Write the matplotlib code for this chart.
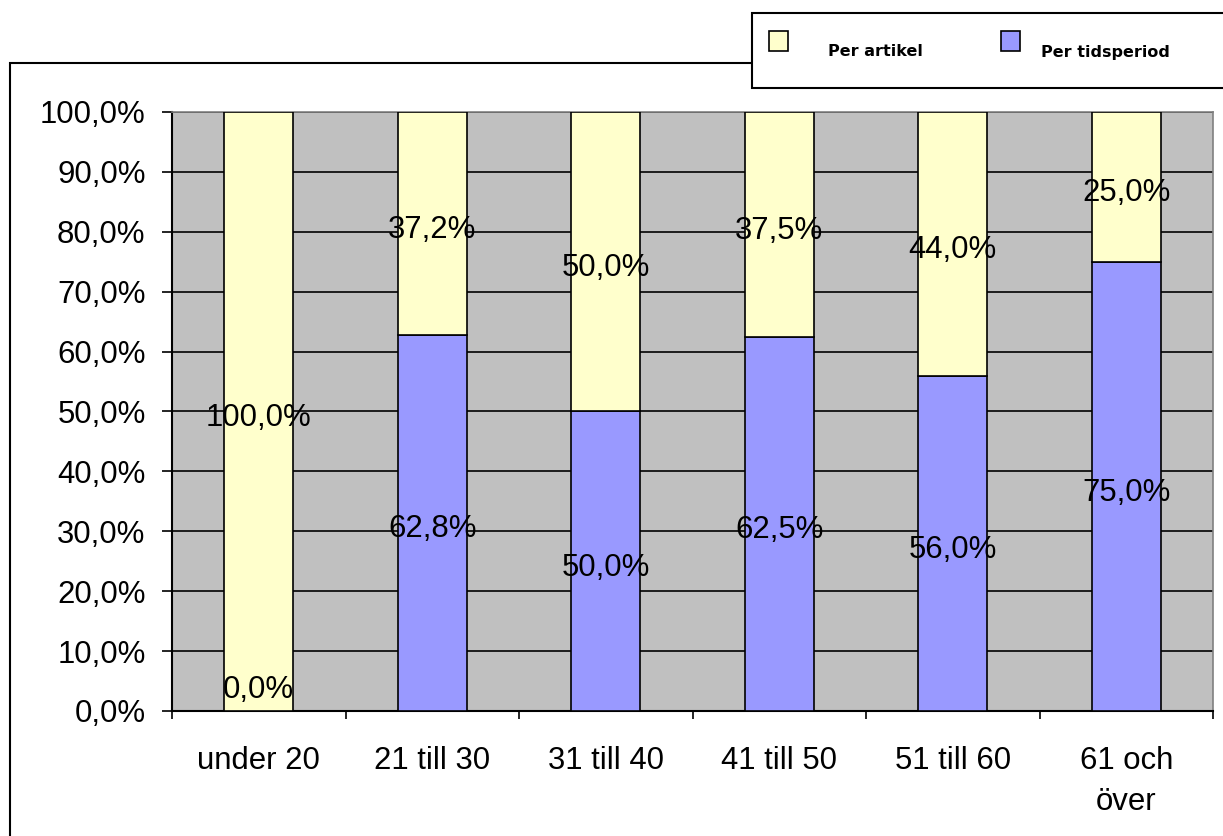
import numpy as np
import matplotlib.pyplot as plt
from matplotlib.patches import Rectangle
from matplotlib.ticker import FixedLocator, FuncFormatter

categories = ['under 20', '21 till 30', '31 till 40', '41 till 50', '51 till 60', '61 och\növer']
per_tidsperiod = [0.0, 62.8, 50.0, 62.5, 56.0, 75.0]
per_artikel = [100.0, 37.2, 50.0, 37.5, 44.0, 25.0]
series_names = ['Per artikel', 'Per tidsperiod']

yellow = '#FFFFCC'
blue = '#9999FF'
W, H = 1223, 836

plt.rcParams['font.family'] = ['Liberation Sans', 'DejaVu Sans']

fig = plt.figure(figsize=(W / 100, H / 100), dpi=100)
ax = fig.add_axes([172 / W, 1 - 711 / H, (1213 - 172) / W, (711 - 112) / H])
ax.set_facecolor('#C0C0C0')

x = np.arange(len(categories))
bw = 0.40
ax.bar(x, per_tidsperiod, bw, color=blue, edgecolor='black', linewidth=1.2, zorder=3)
ax.bar(x, per_artikel, bw, bottom=per_tidsperiod, color=yellow, edgecolor='black',
       linewidth=1.2, zorder=3)

def pct(v):
    return f'{v:.1f}%'.replace('.', ',')

# value labels sit in the middle of each segment (zero segment nudged up)
for xi, t, a in zip(x, per_tidsperiod, per_artikel):
    for yc, v in [(max(t / 2, 4.5), t), (t + a / 2, a)]:
        ax.annotate(pct(v), (xi, yc), xytext=(0, -4.5), textcoords='offset points',
                    ha='center', va='center', fontsize=22.4, zorder=4)

ax.set_xlim(-0.5, len(categories) - 0.5)
ax.set_ylim(0, 100)

ax.yaxis.set_major_locator(FixedLocator(np.arange(0, 101, 10)))
ax.yaxis.set_major_formatter(FuncFormatter(lambda v, _: pct(v)))
ax.grid(axis='y', color='black', linewidth=1.2, zorder=1)
ax.set_axisbelow(True)

# category boundaries get the tick marks, centres get the labels
ax.xaxis.set_major_locator(FixedLocator(np.arange(-0.5, len(categories), 1.0)))
ax.xaxis.set_major_formatter(FuncFormatter(lambda v, _: ''))
ax.set_xticks(x, minor=True)
ax.set_xticklabels(categories, minor=True, fontsize=22.4, linespacing=1.5)
ax.tick_params(axis='x', which='major', length=6, width=1.2, direction='out')
ax.tick_params(axis='x', which='minor', length=0, pad=25)
ax.tick_params(axis='y', length=7, width=1.2, direction='out', pad=12, labelsize=22.4)

for s in ['left', 'bottom']:
    ax.spines[s].set_linewidth(1.5)
    ax.spines[s].set_color('black')
for s in ['top', 'right']:
    ax.spines[s].set_linewidth(1.2)
    ax.spines[s].set_color('#808080')

# chart area frame and legend box
fig.add_artist(Rectangle((10 / W, -0.05), 1.2, 1.05 - 63 / H, transform=fig.transFigure,
                         fill=False, edgecolor='black', linewidth=1.5, zorder=0))
fig.add_artist(Rectangle((752 / W, 1 - 88 / H), 0.5, 75 / H, transform=fig.transFigure,
                         facecolor='white', edgecolor='black', linewidth=1.5, zorder=5))

# legend entries
for name, col, px, tx in zip(series_names, [yellow, blue], [769, 1001], [828, 1041]):
    fig.add_artist(Rectangle((px / W, 1 - 51 / H), 19 / W, 20 / H, transform=fig.transFigure,
                             facecolor=col, edgecolor='black', linewidth=1.2, zorder=6))
    fig.text(tx / W, 1 - 52 / H, name, ha='left', va='center', family='DejaVu Sans',
             weight='bold', fontsize=11.5, zorder=6)

fig.savefig('out.png', dpi=100)
